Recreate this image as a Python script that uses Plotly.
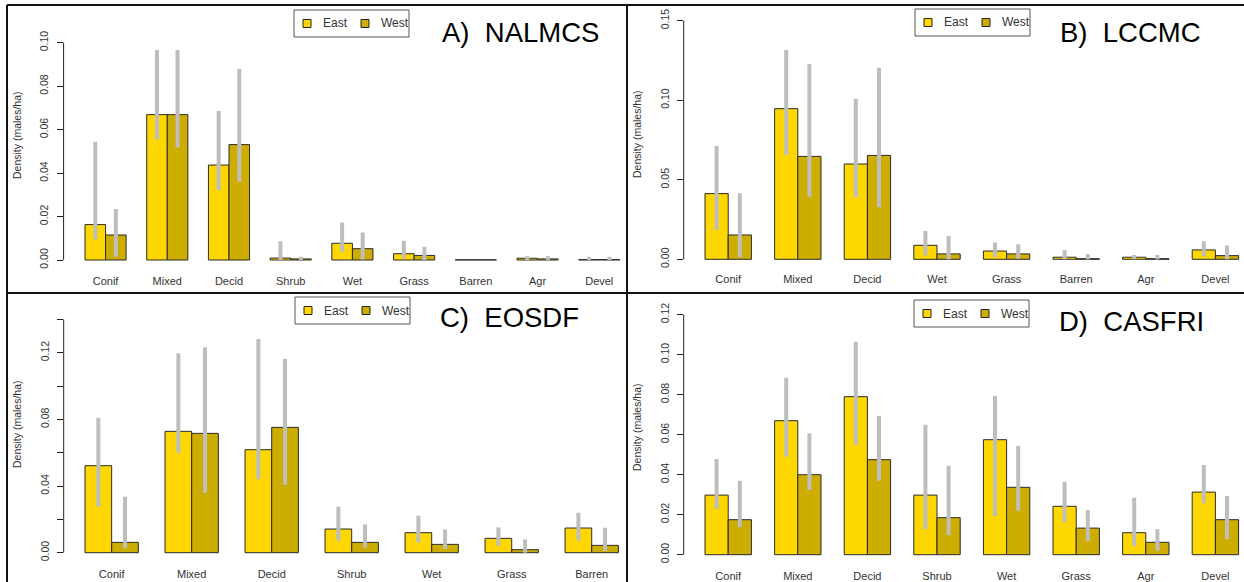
import plotly.graph_objects as go

# ---------------- data ----------------
cats_A = ["Conif", "Mixed", "Decid", "Shrub", "Wet", "Grass", "Barren", "Agr", "Devel"]
east_A = [0.0163, 0.0669, 0.0437, 0.0009, 0.0077, 0.0029, 0.0001, 0.0008, 0.0002]
west_A = [0.0115, 0.0669, 0.0531, 0.0005, 0.0052, 0.0021, 0.0001, 0.0005, 0.0002]
east_lo_A = [0.0095, 0.0555, 0.0322, 0.0, 0.0038, 0.0008, 0.0001, 0.0, 0.0]
east_hi_A = [0.0544, 0.0966, 0.0686, 0.0086, 0.0172, 0.0089, 0.0001, 0.0018, 0.0015]
west_lo_A = [0.0015, 0.0518, 0.0360, 0.0, 0.0003, 0.0, 0.0001, 0.0, 0.0]
west_hi_A = [0.0235, 0.0966, 0.0879, 0.0015, 0.0127, 0.0061, 0.0001, 0.0018, 0.0015]

cats_B = ["Conif", "Mixed", "Decid", "Wet", "Grass", "Barren", "Agr", "Devel"]
east_B = [0.0413, 0.0947, 0.0599, 0.0088, 0.0052, 0.0013, 0.0013, 0.0059]
west_B = [0.0153, 0.0647, 0.0653, 0.0034, 0.0034, 0.0004, 0.0004, 0.0023]
east_lo_B = [0.0184, 0.0656, 0.0390, 0.0025, 0.0013, 0.0, 0.0, 0.0017]
east_hi_B = [0.0712, 0.1315, 0.1010, 0.0178, 0.0105, 0.0059, 0.0027, 0.0113]
west_lo_B = [0.0013, 0.0394, 0.0327, 0.0, 0.0004, 0.0, 0.0, 0.0]
west_hi_B = [0.0415, 0.1227, 0.1204, 0.0147, 0.0094, 0.0034, 0.0027, 0.0086]

cats_C = ["Conif", "Mixed", "Decid", "Shrub", "Wet", "Grass", "Barren"]
east_C = [0.0522, 0.0728, 0.0618, 0.0142, 0.0120, 0.0086, 0.0148]
west_C = [0.0062, 0.0716, 0.0752, 0.0062, 0.0050, 0.0018, 0.0044]
east_lo_C = [0.0276, 0.0600, 0.0440, 0.0072, 0.0062, 0.0042, 0.0072]
east_hi_C = [0.0810, 0.1196, 0.1282, 0.0276, 0.0222, 0.0152, 0.0240]
west_lo_C = [0.0026, 0.0360, 0.0408, 0.0030, 0.0022, 0.0, 0.0010]
west_hi_C = [0.0336, 0.1232, 0.1162, 0.0170, 0.0140, 0.0080, 0.0150]

cats_D = ["Conif", "Mixed", "Decid", "Shrub", "Wet", "Grass", "Agr", "Devel"]
east_D = [0.0298, 0.0670, 0.0790, 0.0298, 0.0575, 0.0242, 0.0110, 0.0313]
west_D = [0.0175, 0.0400, 0.0475, 0.0185, 0.0337, 0.0133, 0.0062, 0.0175]
east_lo_D = [0.0228, 0.0490, 0.0550, 0.0128, 0.0193, 0.0162, 0.0042, 0.0257]
east_hi_D = [0.0478, 0.0885, 0.1065, 0.0650, 0.0793, 0.0365, 0.0285, 0.0448]
west_lo_D = [0.0137, 0.0323, 0.0370, 0.0098, 0.0220, 0.0068, 0.0020, 0.0077]
west_hi_D = [0.0370, 0.0607, 0.0693, 0.0445, 0.0543, 0.0223, 0.0128, 0.0293]

series_names = ["East", "West"]
titles = ["A)\u00a0 NALMCS", "B)\u00a0 LCCMC", "C)\u00a0 EOSDF", "D)\u00a0 CASFRI"]
ytick_vals_A = [0.00, 0.02, 0.04, 0.06, 0.08, 0.10]
ytick_text_A = ["0.00", "0.02", "0.04", "0.06", "0.08", "0.10"]
ytick_vals_B = [0.00, 0.05, 0.10, 0.15]
ytick_text_B = ["0.00", "0.05", "0.10", "0.15"]
ytick_vals_C = [0.00, 0.02, 0.04, 0.06, 0.08, 0.10, 0.12, 0.14]
ytick_text_C = ["0.00", "", "0.04", "", "0.08", "", "0.12", ""]
ytick_vals_D = [0.00, 0.02, 0.04, 0.06, 0.08, 0.10, 0.12]
ytick_text_D = ["0.00", "0.02", "0.04", "0.06", "0.08", "0.10", "0.12"]
ytitle = "Density (males/ha)"

# ---------------- layout geometry (pixels) ----------------
W, H = 1244, 582
EAST_COL = "#FFD700"
WEST_COL = "#CDAD00"
ERR_COL = "#BEBEBE"
FONT = "Liberation Sans, Arial, sans-serif"
COLS = [EAST_COL, WEST_COL]

panels = [
    dict(cats=cats_A, e=east_A, w=west_A, elo=east_lo_A, ehi=east_hi_A, wlo=west_lo_A, whi=west_hi_A,
         tv=ytick_vals_A, tt=ytick_text_A, x0=85, unit=20.57, L=63.6, R=641, base=260.0, ppu=2173.0,
         dtop=5, dbot=273, leg=(294, 10), tpos=(440, 32), ypos=(17, 135)),
    dict(cats=cats_B, e=east_B, w=west_B, elo=east_lo_B, ehi=east_hi_B, wlo=west_lo_B, whi=west_hi_B,
         tv=ytick_vals_B, tt=ytick_text_B, x0=705, unit=23.2, L=683.7, R=1244, base=259.3, ppu=1590.7,
         dtop=5, dbot=271, leg=(915, 9), tpos=(1058, 32), ypos=(637, 134)),
    dict(cats=cats_C, e=east_C, w=west_C, elo=east_lo_C, ehi=east_hi_C, wlo=west_lo_C, whi=west_hi_C,
         tv=ytick_vals_C, tt=ytick_text_C, x0=85, unit=26.67, L=63.7, R=639, base=552.7, ppu=1666.7,
         dtop=297, dbot=566, leg=(295, 297), tpos=(438, 318), ypos=(17, 424)),
    dict(cats=cats_D, e=east_D, w=west_D, elo=east_lo_D, ehi=east_hi_D, wlo=west_lo_D, whi=west_hi_D,
         tv=ytick_vals_D, tt=ytick_text_D, x0=705, unit=23.2, L=683.7, R=1244, base=554.7, ppu=2000.0,
         dtop=297, dbot=568, leg=(914, 300), tpos=(1057, 321), ypos=(637, 427)),
]


def PX(x):
    return x / W


def PY(y):
    return 1 - y / H


fig = go.Figure()
layout = dict(
    width=W, height=H, margin=dict(l=0, r=0, t=0, b=0),
    paper_bgcolor="white", plot_bgcolor="rgba(0,0,0,0)",
    barmode="group", bargap=1 / 3, bargroupgap=0,
    font=dict(family=FONT, color="#333333"),
    template="none", showlegend=False,
)
annotations = []
shapes = []

for i, p in enumerate(panels, start=1):
    xa = "x" if i == 1 else f"x{i}"
    ya = "y" if i == 1 else f"y{i}"
    xkey = "xaxis" if i == 1 else f"xaxis{i}"
    ykey = "yaxis" if i == 1 else f"yaxis{i}"

    for name, vals, lo, hi, col in [(series_names[0], p["e"], p["elo"], p["ehi"], EAST_COL),
                                    (series_names[1], p["w"], p["wlo"], p["whi"], WEST_COL)]:
        fig.add_trace(go.Bar(
            x=p["cats"], y=vals, name=name, xaxis=xa, yaxis=ya, showlegend=False,
            marker=dict(color=col, line=dict(color="#2b2b2b", width=1)),
            error_y=dict(type="data", symmetric=False,
                         array=[h - v for h, v in zip(hi, vals)],
                         arrayminus=[v - l for v, l in zip(vals, lo)],
                         color=ERR_COL, thickness=4, width=0),
            hoverinfo="skip",
        ))

    def cpos(px):
        return -1 / 3 + (px - p["x0"]) / (3 * p["unit"])

    def ypx(px):
        return (p["base"] - px) / p["ppu"]

    layout[xkey] = dict(
        domain=[PX(p["L"]), PX(p["R"])], range=[cpos(p["L"]), cpos(p["R"])],
        anchor=ya, showline=False, showgrid=False, zeroline=False,
        ticks="", tickfont=dict(size=11, family=FONT, color="#333333"),
        automargin=False, fixedrange=True,
    )
    layout[ykey] = dict(
        domain=[PY(p["dbot"]), PY(p["dtop"])], range=[ypx(p["dbot"]), ypx(p["dtop"])],
        anchor=xa, showline=False, showgrid=False, zeroline=False,
        tickvals=p["tv"], ticktext=p["tt"], ticks="outside", ticklen=6, tickwidth=1,
        tickcolor="#222222", tickangle=-90, ticklabelstandoff=4,
        tickfont=dict(size=10.5, family=FONT, color="#333333"),
        automargin=False, fixedrange=True,
    )
    # R-style axis line from first to last tick
    shapes.append(dict(type="line", xref=f"{xa} domain", yref=ya, x0=0, x1=0,
                       y0=p["tv"][0], y1=p["tv"][-1], line=dict(color="#222222", width=1)))
    # panel title
    annotations.append(dict(text=titles[i - 1], x=PX(p["tpos"][0]), y=PY(p["tpos"][1]),
                            xref="paper", yref="paper", xanchor="left", yanchor="middle",
                            showarrow=False, font=dict(size=27.5, family=FONT, color="black")))
    # y-axis title
    annotations.append(dict(text=ytitle, x=PX(p["ypos"][0]), y=PY(p["ypos"][1]),
                            xref="paper", yref="paper", xanchor="center", yanchor="middle",
                            textangle=-90, showarrow=False,
                            font=dict(size=10.5, family=FONT, color="#333333")))
    # R-style legend box (East / West)
    lx, ly = p["leg"]
    shapes.append(dict(type="rect", xref="paper", yref="paper",
                       x0=PX(lx), x1=PX(lx + 115), y0=PY(ly), y1=PY(ly + 27),
                       line=dict(color="#555555", width=1), fillcolor="white"))
    for k, (nm, col) in enumerate(zip(series_names, COLS)):
        cx = lx + 13 + k * 58
        cy = ly + 13.5
        shapes.append(dict(type="rect", xref="paper", yref="paper",
                           x0=PX(cx - 4), x1=PX(cx + 4), y0=PY(cy - 4), y1=PY(cy + 4),
                           line=dict(color="#222222", width=1), fillcolor=col))
        annotations.append(dict(text=nm, x=PX(cx + 14), y=PY(cy),
                                xref="paper", yref="paper", xanchor="left", yanchor="middle",
                                showarrow=False, font=dict(size=12, family=FONT, color="#333333")))

# panel frame lines
frame = [
    (7, 5, 1244, 5),      # top border
    (7, 5, 7, 582),       # left border
    (627, 5, 627, 582),   # vertical divider
    (7, 293, 1244, 293),  # horizontal divider
]
for x0, y0, x1, y1 in frame:
    shapes.append(dict(type="line", xref="paper", yref="paper",
                       x0=PX(x0), x1=PX(x1), y0=PY(y0), y1=PY(y1),
                       line=dict(color="#111111", width=2)))

layout["shapes"] = shapes
layout["annotations"] = annotations
fig.update_layout(**layout)
fig.write_html("out.html", config={"displayModeBar": False, "staticPlot": True},
               post_script="document.body.style.margin='0px';")
